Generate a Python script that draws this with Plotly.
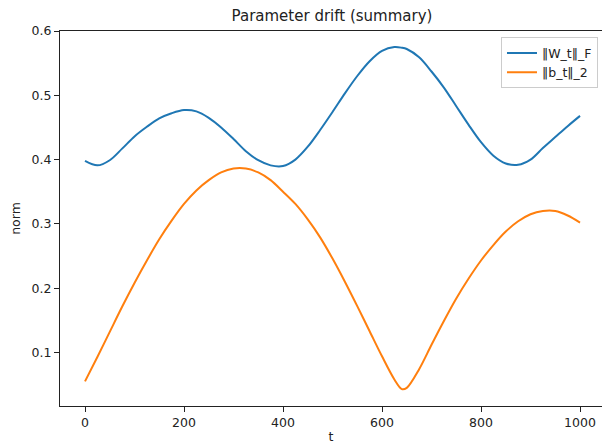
import plotly.graph_objects as go

t = [0, 25, 50, 75, 100, 125, 150, 175, 200, 225, 250, 275, 300, 325, 350, 375,
     400, 425, 450, 475, 500, 525, 550, 575, 600, 625, 640, 650, 675, 700, 725,
     750, 775, 800, 825, 850, 875, 900, 925, 950, 975, 1000]

w_norm = [0.398, 0.391, 0.399, 0.417, 0.436, 0.451, 0.464, 0.472, 0.477, 0.475,
          0.465, 0.450, 0.432, 0.413, 0.399, 0.391, 0.390, 0.400, 0.420, 0.446,
          0.474, 0.503, 0.530, 0.553, 0.569, 0.575, 0.574, 0.572, 0.559, 0.537,
          0.512, 0.483, 0.454, 0.427, 0.406, 0.394, 0.392, 0.400, 0.418, 0.435,
          0.452, 0.468]

b_norm = [0.055, 0.093, 0.132, 0.171, 0.208, 0.243, 0.276, 0.305, 0.331, 0.352,
          0.368, 0.380, 0.386, 0.386, 0.380, 0.368, 0.350, 0.331, 0.307, 0.279,
          0.246, 0.210, 0.172, 0.133, 0.094, 0.058, 0.043, 0.045, 0.074, 0.112,
          0.149, 0.184, 0.215, 0.243, 0.267, 0.288, 0.304, 0.315, 0.320, 0.320,
          0.313, 0.302]

series_names = ["‖W_t‖_F", "‖b_t‖_2"]
x_ticks = [0, 200, 400, 600, 800, 1000]
y_ticks = [0.1, 0.2, 0.3, 0.4, 0.5, 0.6]

FONT = "DejaVu Sans"

fig = go.Figure()
fig.add_trace(go.Scatter(x=t, y=w_norm, mode="lines", name=series_names[0],
                         line=dict(color="#1f77b4", width=2, shape="spline", smoothing=0.9)))
fig.add_trace(go.Scatter(x=t, y=b_norm, mode="lines", name=series_names[1],
                         line=dict(color="#ff7f0e", width=2, shape="spline", smoothing=0.9)))

axis_common = dict(
    showgrid=False, zeroline=False, showline=True, linecolor="#222", linewidth=1,
    ticks="outside", ticklen=5, tickwidth=1, tickcolor="#222",
    tickfont=dict(family=FONT, size=12.5, color="#222"),
)

fig.update_layout(
    width=602, height=444,
    margin=dict(l=60, r=0, t=31, b=38),
    paper_bgcolor="white", plot_bgcolor="white",
    title=dict(text="Parameter drift (summary)", x=0.5515, xanchor="center",
               y=1 - 16 / 444, yanchor="middle",
               font=dict(family=FONT, size=15, color="#222")),
    xaxis=dict(range=[-50.5, 1044.4], tickvals=x_ticks, mirror=True,
               title=dict(text="t", standoff=4, font=dict(family=FONT, size=12.5, color="#222")),
               **axis_common),
    yaxis=dict(range=[0.0167, 0.6], tickvals=y_ticks, ticktext=[f"{v:.1f}" for v in y_ticks],
               title=dict(text="norm", standoff=8, font=dict(family=FONT, size=12.5, color="#222")),
               **axis_common),
    legend=dict(x=0.9926, y=0.983, xanchor="right", yanchor="top",
                bgcolor="rgba(255,255,255,0.8)", bordercolor="#cccccc", borderwidth=1,
                font=dict(family=FONT, size=12.5, color="#222"),
                itemwidth=30, tracegroupgap=0),
    showlegend=True,
)

fig.write_html("out.html")
